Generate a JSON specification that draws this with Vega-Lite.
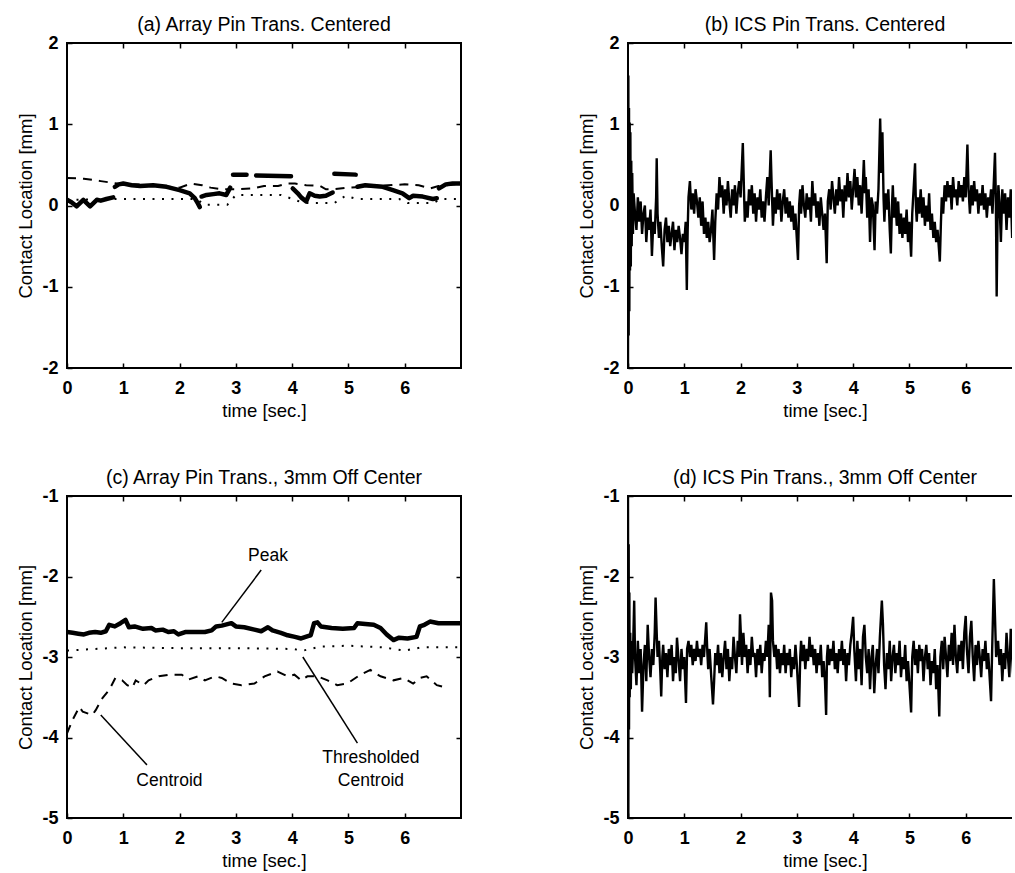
{
  "$schema": "https://vega.github.io/schema/vega-lite/v6.json",
  "autosize": {"type": "pad"},
  "padding": {"left": 15, "top": 13, "right": -12, "bottom": 0},
  "background": "white",
  "config": {
    "view": {"stroke": "black", "strokeWidth": 2},
    "axis": {"labelFont": "Liberation Sans", "labelFontSize": 18, "labelFontWeight": "bold", "labelColor": "black", "titleFont": "Liberation Sans", "titleFontSize": 18.5, "titleFontWeight": "normal", "titleColor": "black", "tickColor": "black", "tickWidth": 1.5, "grid": false, "domain": false, "labelFlush": false, "labelOverlap": false},
    "title": {"font": "Liberation Sans", "fontSize": 19.5, "fontWeight": "normal", "color": "black", "offset": -1},
    "text": {"font": "Liberation Sans", "fontSize": 17.5, "color": "black"}
  },
  "datasets": {
    "a_peak": [
      {"seg": 1, "t": 0, "v": 0.07}, {"seg": 1, "t": 0.08, "v": 0.04}, {"seg": 1, "t": 0.17, "v": -0.01}, {"seg": 1, "t": 0.23, "v": 0.03}, {"seg": 1, "t": 0.29, "v": 0.07}, {"seg": 1, "t": 0.35, "v": 0.03}, {"seg": 1, "t": 0.41, "v": -0.01}, {"seg": 1, "t": 0.47, "v": 0.03}, {"seg": 1, "t": 0.53, "v": 0.07}, {"seg": 1, "t": 0.6, "v": 0.06}, {"seg": 1, "t": 0.7, "v": 0.08}, {"seg": 1, "t": 0.82, "v": 0.1},
      {"seg": 2, "t": 0.85, "v": 0.23}, {"seg": 2, "t": 0.92, "v": 0.26}, {"seg": 2, "t": 1.0, "v": 0.27}, {"seg": 2, "t": 1.15, "v": 0.25}, {"seg": 2, "t": 1.3, "v": 0.24}, {"seg": 2, "t": 1.53, "v": 0.25}, {"seg": 2, "t": 1.77, "v": 0.23}, {"seg": 2, "t": 2.0, "v": 0.19}, {"seg": 2, "t": 2.18, "v": 0.15}, {"seg": 2, "t": 2.27, "v": 0.09}, {"seg": 2, "t": 2.33, "v": 0.02}, {"seg": 2, "t": 2.36, "v": -0.02},
      {"seg": 3, "t": 2.39, "v": 0.11}, {"seg": 3, "t": 2.48, "v": 0.13}, {"seg": 3, "t": 2.6, "v": 0.14}, {"seg": 3, "t": 2.71, "v": 0.15}, {"seg": 3, "t": 2.83, "v": 0.13}, {"seg": 3, "t": 2.9, "v": 0.22},
      {"seg": 4, "t": 2.95, "v": 0.38}, {"seg": 4, "t": 3.19, "v": 0.38},
      {"seg": 5, "t": 3.36, "v": 0.37}, {"seg": 5, "t": 3.98, "v": 0.36},
      {"seg": 6, "t": 4.01, "v": 0.21}, {"seg": 6, "t": 4.1, "v": 0.15}, {"seg": 6, "t": 4.16, "v": 0.1}, {"seg": 6, "t": 4.25, "v": 0.05}, {"seg": 6, "t": 4.28, "v": 0.1}, {"seg": 6, "t": 4.31, "v": 0.15}, {"seg": 6, "t": 4.4, "v": 0.12}, {"seg": 6, "t": 4.49, "v": 0.11}, {"seg": 6, "t": 4.6, "v": 0.12}, {"seg": 6, "t": 4.72, "v": 0.16},
      {"seg": 7, "t": 4.75, "v": 0.39}, {"seg": 7, "t": 5.13, "v": 0.38},
      {"seg": 8, "t": 5.16, "v": 0.23}, {"seg": 8, "t": 5.3, "v": 0.25}, {"seg": 8, "t": 5.45, "v": 0.24}, {"seg": 8, "t": 5.61, "v": 0.23}, {"seg": 8, "t": 5.79, "v": 0.19}, {"seg": 8, "t": 5.96, "v": 0.15}, {"seg": 8, "t": 6.08, "v": 0.09}, {"seg": 8, "t": 6.15, "v": 0.12}, {"seg": 8, "t": 6.32, "v": 0.11}, {"seg": 8, "t": 6.5, "v": 0.08}, {"seg": 8, "t": 6.57, "v": 0.09},
      {"seg": 9, "t": 6.61, "v": 0.21}, {"seg": 9, "t": 6.73, "v": 0.26}, {"seg": 9, "t": 6.85, "v": 0.27}, {"seg": 9, "t": 7.0, "v": 0.27}
    ],
    "a_cent": [
      {"t": 0, "v": 0.34}, {"t": 0.3, "v": 0.33}, {"t": 0.6, "v": 0.3}, {"t": 0.9, "v": 0.27}, {"t": 1.5, "v": 0.25}, {"t": 2.0, "v": 0.22}, {"t": 2.2, "v": 0.27}, {"t": 2.4, "v": 0.25}, {"t": 2.55, "v": 0.22}, {"t": 2.75, "v": 0.2}, {"t": 3.0, "v": 0.2}, {"t": 3.3, "v": 0.21}, {"t": 3.5, "v": 0.24}, {"t": 3.75, "v": 0.24}, {"t": 3.9, "v": 0.27}, {"t": 4.05, "v": 0.27}, {"t": 4.25, "v": 0.25}, {"t": 4.5, "v": 0.24}, {"t": 4.6, "v": 0.2}, {"t": 4.75, "v": 0.2}, {"t": 5.0, "v": 0.22}, {"t": 5.5, "v": 0.24}, {"t": 6.0, "v": 0.26}, {"t": 6.25, "v": 0.25}, {"t": 6.45, "v": 0.21}, {"t": 6.6, "v": 0.24}, {"t": 7.0, "v": 0.27}
    ],
    "a_thr": [
      {"t": 0, "v": 0.07}, {"t": 0.9, "v": 0.08}, {"t": 2.3, "v": 0.08}, {"t": 2.45, "v": 0.01}, {"t": 2.85, "v": 0.01}, {"t": 3.0, "v": 0.13}, {"t": 3.8, "v": 0.13}, {"t": 4.05, "v": 0.07}, {"t": 4.2, "v": 0.03}, {"t": 4.75, "v": 0.03}, {"t": 4.95, "v": 0.12}, {"t": 5.15, "v": 0.08}, {"t": 5.9, "v": 0.08}, {"t": 6.05, "v": 0.03}, {"t": 6.5, "v": 0.03}, {"t": 6.65, "v": 0.08}, {"t": 7.0, "v": 0.08}
    ],
    "b": [
      {"t": 0, "v": -2.0}, {"t": 0.006, "v": 1.6}, {"t": 0.012, "v": -1.6}, {"t": 0.018, "v": 1.2}, {"t": 0.024, "v": -1.3}, {"t": 0.03, "v": 1.02}, {"t": 0.036, "v": -0.8}, {"t": 0.042, "v": 0.9}, {"t": 0.05, "v": -0.75}, {"t": 0.058, "v": 0.55}, {"t": 0.066, "v": -0.5}, {"t": 0.075, "v": 0.4}, {"t": 0.088, "v": -0.35}, {"t": 0.1, "v": 0.15},
      {"t": 0.125, "v": -0.1}, {"t": 0.15, "v": -0.3}, {"t": 0.175, "v": 0.1}, {"t": 0.2, "v": -0.2}, {"t": 0.225, "v": 0.05}, {"t": 0.25, "v": -0.35}, {"t": 0.275, "v": -0.1}, {"t": 0.3, "v": 0.0}, {"t": 0.325, "v": -0.45}, {"t": 0.35, "v": -0.15}, {"t": 0.375, "v": -0.3}, {"t": 0.4, "v": -0.05}, {"t": 0.425, "v": -0.62}, {"t": 0.45, "v": -0.2}, {"t": 0.475, "v": -0.35}, {"t": 0.5, "v": 0.1}, {"t": 0.51, "v": 0.58}, {"t": 0.525, "v": -0.1}, {"t": 0.55, "v": -0.4}, {"t": 0.575, "v": -0.2}, {"t": 0.6, "v": -0.5}, {"t": 0.625, "v": -0.75}, {"t": 0.65, "v": -0.3}, {"t": 0.675, "v": -0.15}, {"t": 0.7, "v": -0.45}, {"t": 0.725, "v": -0.25}, {"t": 0.75, "v": -0.5}, {"t": 0.775, "v": -0.35}, {"t": 0.8, "v": -0.2}, {"t": 0.825, "v": -0.55}, {"t": 0.85, "v": -0.3}, {"t": 0.875, "v": -0.45}, {"t": 0.9, "v": -0.25}, {"t": 0.925, "v": -0.4}, {"t": 0.95, "v": -0.6}, {"t": 0.975, "v": -0.35}, {"t": 1.0, "v": -0.45}, {"t": 1.025, "v": -0.2}, {"t": 1.045, "v": -1.04}, {"t": 1.06, "v": -0.3}, {"t": 1.075, "v": 0.1}, {"t": 1.1, "v": 0.3}, {"t": 1.125, "v": -0.05}, {"t": 1.15, "v": 0.15}, {"t": 1.175, "v": -0.1}, {"t": 1.2, "v": 0.2}, {"t": 1.225, "v": 0.05}, {"t": 1.25, "v": -0.15}, {"t": 1.275, "v": 0.1}, {"t": 1.3, "v": -0.25}, {"t": 1.325, "v": 0.05}, {"t": 1.35, "v": -0.35}, {"t": 1.375, "v": -0.15}, {"t": 1.4, "v": -0.4}, {"t": 1.425, "v": -0.2}, {"t": 1.45, "v": -0.45}, {"t": 1.475, "v": -0.3}, {"t": 1.5, "v": -0.05}, {"t": 1.53, "v": -0.67}, {"t": 1.55, "v": -0.2}, {"t": 1.575, "v": 0.15}, {"t": 1.6, "v": -0.05}, {"t": 1.625, "v": 0.35}, {"t": 1.65, "v": 0.1}, {"t": 1.675, "v": 0.25}, {"t": 1.7, "v": -0.1}, {"t": 1.725, "v": 0.2}, {"t": 1.75, "v": 0.0}, {"t": 1.775, "v": 0.3}, {"t": 1.8, "v": 0.05}, {"t": 1.825, "v": -0.15}, {"t": 1.85, "v": 0.2}, {"t": 1.875, "v": 0.0}, {"t": 1.9, "v": 0.25}, {"t": 1.925, "v": -0.1}, {"t": 1.95, "v": 0.15}, {"t": 1.975, "v": 0.3}, {"t": 2.0, "v": 0.1}, {"t": 2.04, "v": 0.77}, {"t": 2.06, "v": 0.2}, {"t": 2.075, "v": -0.2}, {"t": 2.1, "v": 0.05}, {"t": 2.125, "v": -0.15}, {"t": 2.15, "v": 0.2}, {"t": 2.175, "v": 0.0}, {"t": 2.2, "v": 0.25}, {"t": 2.225, "v": -0.1}, {"t": 2.25, "v": 0.15}, {"t": 2.275, "v": -0.2}, {"t": 2.3, "v": 0.1}, {"t": 2.325, "v": -0.05}, {"t": 2.35, "v": 0.2}, {"t": 2.375, "v": -0.15}, {"t": 2.4, "v": 0.05}, {"t": 2.425, "v": -0.2}, {"t": 2.45, "v": 0.1}, {"t": 2.475, "v": 0.35}, {"t": 2.5, "v": 0.0}, {"t": 2.535, "v": 0.68}, {"t": 2.55, "v": 0.3}, {"t": 2.575, "v": -0.25}, {"t": 2.6, "v": 0.1}, {"t": 2.625, "v": -0.1}, {"t": 2.65, "v": 0.2}, {"t": 2.675, "v": -0.05}, {"t": 2.7, "v": 0.15}, {"t": 2.725, "v": -0.2}, {"t": 2.75, "v": 0.05}, {"t": 2.775, "v": 0.2}, {"t": 2.8, "v": -0.1}, {"t": 2.825, "v": 0.1}, {"t": 2.85, "v": -0.15}, {"t": 2.875, "v": 0.05}, {"t": 2.9, "v": -0.2}, {"t": 2.925, "v": 0.0}, {"t": 2.95, "v": -0.3}, {"t": 2.975, "v": -0.1}, {"t": 3.02, "v": -0.67}, {"t": 3.04, "v": 0.0}, {"t": 3.06, "v": 0.2}, {"t": 3.075, "v": -0.1}, {"t": 3.1, "v": 0.25}, {"t": 3.125, "v": 0.0}, {"t": 3.15, "v": -0.15}, {"t": 3.175, "v": 0.15}, {"t": 3.2, "v": -0.05}, {"t": 3.225, "v": 0.1}, {"t": 3.25, "v": -0.2}, {"t": 3.275, "v": 0.3}, {"t": 3.3, "v": 0.0}, {"t": 3.325, "v": 0.15}, {"t": 3.35, "v": -0.15}, {"t": 3.375, "v": 0.05}, {"t": 3.4, "v": -0.25}, {"t": 3.425, "v": 0.1}, {"t": 3.45, "v": -0.1}, {"t": 3.475, "v": -0.3}, {"t": 3.5, "v": -0.1}, {"t": 3.53, "v": -0.71}, {"t": 3.55, "v": 0.05}, {"t": 3.575, "v": 0.2}, {"t": 3.6, "v": -0.05}, {"t": 3.625, "v": 0.3}, {"t": 3.65, "v": 0.1}, {"t": 3.675, "v": -0.1}, {"t": 3.7, "v": 0.2}, {"t": 3.725, "v": 0.0}, {"t": 3.75, "v": 0.35}, {"t": 3.775, "v": 0.05}, {"t": 3.8, "v": 0.2}, {"t": 3.825, "v": -0.15}, {"t": 3.85, "v": 0.25}, {"t": 3.875, "v": 0.05}, {"t": 3.9, "v": 0.4}, {"t": 3.925, "v": 0.1}, {"t": 3.95, "v": 0.3}, {"t": 3.975, "v": -0.05}, {"t": 4.0, "v": 0.2}, {"t": 4.025, "v": 0.45}, {"t": 4.05, "v": 0.1}, {"t": 4.075, "v": 0.35}, {"t": 4.1, "v": 0.0}, {"t": 4.125, "v": 0.25}, {"t": 4.15, "v": -0.1}, {"t": 4.175, "v": 0.3}, {"t": 4.19, "v": 0.56}, {"t": 4.21, "v": 0.15}, {"t": 4.225, "v": 0.35}, {"t": 4.25, "v": -0.15}, {"t": 4.275, "v": 0.2}, {"t": 4.3, "v": -0.45}, {"t": 4.325, "v": 0.1}, {"t": 4.35, "v": 0.0}, {"t": 4.38, "v": -0.55}, {"t": 4.4, "v": 0.05}, {"t": 4.425, "v": -0.1}, {"t": 4.45, "v": 0.2}, {"t": 4.48, "v": 1.07}, {"t": 4.5, "v": 0.4}, {"t": 4.52, "v": 0.9}, {"t": 4.54, "v": 0.1}, {"t": 4.555, "v": -0.2}, {"t": 4.575, "v": 0.15}, {"t": 4.6, "v": -0.05}, {"t": 4.625, "v": 0.2}, {"t": 4.65, "v": -0.3}, {"t": 4.67, "v": -0.59}, {"t": 4.69, "v": 0.0}, {"t": 4.705, "v": 0.25}, {"t": 4.725, "v": -0.15}, {"t": 4.75, "v": 0.1}, {"t": 4.775, "v": -0.25}, {"t": 4.8, "v": 0.05}, {"t": 4.825, "v": -0.35}, {"t": 4.85, "v": -0.1}, {"t": 4.875, "v": -0.4}, {"t": 4.9, "v": -0.15}, {"t": 4.925, "v": -0.35}, {"t": 4.95, "v": -0.05}, {"t": 4.975, "v": -0.45}, {"t": 5.0, "v": -0.2}, {"t": 5.03, "v": -0.63}, {"t": 5.05, "v": -0.1}, {"t": 5.1, "v": 0.52}, {"t": 5.115, "v": 0.0}, {"t": 5.13, "v": -0.2}, {"t": 5.15, "v": 0.1}, {"t": 5.175, "v": -0.1}, {"t": 5.2, "v": 0.2}, {"t": 5.225, "v": -0.15}, {"t": 5.25, "v": 0.1}, {"t": 5.275, "v": -0.25}, {"t": 5.3, "v": 0.0}, {"t": 5.325, "v": -0.2}, {"t": 5.35, "v": 0.15}, {"t": 5.375, "v": -0.3}, {"t": 5.4, "v": -0.1}, {"t": 5.425, "v": -0.4}, {"t": 5.45, "v": -0.2}, {"t": 5.475, "v": -0.45}, {"t": 5.5, "v": -0.3}, {"t": 5.54, "v": -0.69}, {"t": 5.56, "v": -0.2}, {"t": 5.575, "v": 0.1}, {"t": 5.6, "v": -0.1}, {"t": 5.625, "v": 0.25}, {"t": 5.65, "v": 0.05}, {"t": 5.675, "v": 0.3}, {"t": 5.7, "v": 0.1}, {"t": 5.725, "v": 0.25}, {"t": 5.75, "v": -0.05}, {"t": 5.775, "v": 0.35}, {"t": 5.8, "v": 0.1}, {"t": 5.825, "v": 0.2}, {"t": 5.85, "v": 0.0}, {"t": 5.875, "v": 0.3}, {"t": 5.9, "v": 0.1}, {"t": 5.925, "v": 0.25}, {"t": 5.95, "v": 0.05}, {"t": 5.975, "v": 0.35}, {"t": 6.0, "v": 0.1}, {"t": 6.03, "v": 0.75}, {"t": 6.05, "v": 0.2}, {"t": 6.075, "v": -0.1}, {"t": 6.1, "v": 0.25}, {"t": 6.125, "v": 0.0}, {"t": 6.15, "v": 0.3}, {"t": 6.175, "v": 0.05}, {"t": 6.2, "v": 0.2}, {"t": 6.225, "v": -0.1}, {"t": 6.25, "v": 0.15}, {"t": 6.275, "v": 0.0}, {"t": 6.3, "v": 0.25}, {"t": 6.325, "v": -0.05}, {"t": 6.35, "v": 0.15}, {"t": 6.375, "v": -0.15}, {"t": 6.4, "v": 0.1}, {"t": 6.425, "v": 0.0}, {"t": 6.45, "v": 0.2}, {"t": 6.475, "v": -0.1}, {"t": 6.5, "v": 0.3}, {"t": 6.52, "v": 0.65}, {"t": 6.535, "v": 0.1}, {"t": 6.55, "v": -1.12}, {"t": 6.565, "v": -0.2}, {"t": 6.58, "v": 0.25}, {"t": 6.6, "v": 0.05}, {"t": 6.625, "v": -0.45}, {"t": 6.65, "v": 0.2}, {"t": 6.675, "v": -0.1}, {"t": 6.7, "v": 0.15}, {"t": 6.725, "v": -0.3}, {"t": 6.75, "v": 0.1}, {"t": 6.775, "v": -0.15}, {"t": 6.8, "v": 0.2}, {"t": 6.825, "v": -0.4}, {"t": 6.85, "v": 0.0}, {"t": 6.875, "v": 0.15}, {"t": 6.9, "v": -0.2}, {"t": 6.925, "v": 0.1}, {"t": 6.95, "v": -0.3}, {"t": 6.975, "v": 0.05}, {"t": 7.0, "v": -0.1}
    ],
    "c_peak": [
      {"t": 0, "v": -2.69}, {"t": 0.1, "v": -2.7}, {"t": 0.2, "v": -2.71}, {"t": 0.3, "v": -2.72}, {"t": 0.39, "v": -2.7}, {"t": 0.5, "v": -2.69}, {"t": 0.6, "v": -2.7}, {"t": 0.69, "v": -2.68}, {"t": 0.75, "v": -2.6}, {"t": 0.85, "v": -2.62}, {"t": 0.95, "v": -2.58}, {"t": 1.04, "v": -2.54}, {"t": 1.1, "v": -2.63}, {"t": 1.2, "v": -2.62}, {"t": 1.35, "v": -2.65}, {"t": 1.5, "v": -2.64}, {"t": 1.57, "v": -2.67}, {"t": 1.7, "v": -2.66}, {"t": 1.8, "v": -2.69}, {"t": 1.9, "v": -2.68}, {"t": 1.98, "v": -2.72}, {"t": 2.1, "v": -2.69}, {"t": 2.3, "v": -2.69}, {"t": 2.45, "v": -2.69}, {"t": 2.57, "v": -2.67}, {"t": 2.65, "v": -2.62}, {"t": 2.75, "v": -2.61}, {"t": 2.92, "v": -2.58}, {"t": 3.0, "v": -2.62}, {"t": 3.15, "v": -2.63}, {"t": 3.33, "v": -2.66}, {"t": 3.45, "v": -2.68}, {"t": 3.57, "v": -2.63}, {"t": 3.65, "v": -2.67}, {"t": 3.8, "v": -2.7}, {"t": 3.92, "v": -2.73}, {"t": 4.05, "v": -2.75}, {"t": 4.16, "v": -2.77}, {"t": 4.28, "v": -2.74}, {"t": 4.33, "v": -2.73}, {"t": 4.39, "v": -2.58}, {"t": 4.45, "v": -2.57}, {"t": 4.51, "v": -2.62}, {"t": 4.7, "v": -2.64}, {"t": 4.9, "v": -2.65}, {"t": 5.1, "v": -2.64}, {"t": 5.16, "v": -2.58}, {"t": 5.3, "v": -2.59}, {"t": 5.45, "v": -2.6}, {"t": 5.57, "v": -2.64}, {"t": 5.68, "v": -2.72}, {"t": 5.8, "v": -2.79}, {"t": 5.9, "v": -2.76}, {"t": 6.05, "v": -2.77}, {"t": 6.21, "v": -2.75}, {"t": 6.27, "v": -2.62}, {"t": 6.35, "v": -2.6}, {"t": 6.45, "v": -2.56}, {"t": 6.6, "v": -2.58}, {"t": 6.8, "v": -2.58}, {"t": 7.0, "v": -2.58}
    ],
    "c_cent": [
      {"t": 0.0, "v": -3.95}, {"t": 0.1, "v": -3.78}, {"t": 0.22, "v": -3.62}, {"t": 0.28, "v": -3.68}, {"t": 0.45, "v": -3.72}, {"t": 0.51, "v": -3.66}, {"t": 0.63, "v": -3.51}, {"t": 0.75, "v": -3.41}, {"t": 0.86, "v": -3.26}, {"t": 0.98, "v": -3.29}, {"t": 1.07, "v": -3.35}, {"t": 1.16, "v": -3.38}, {"t": 1.22, "v": -3.29}, {"t": 1.36, "v": -3.35}, {"t": 1.45, "v": -3.29}, {"t": 1.63, "v": -3.24}, {"t": 1.81, "v": -3.22}, {"t": 2.04, "v": -3.22}, {"t": 2.16, "v": -3.28}, {"t": 2.33, "v": -3.24}, {"t": 2.45, "v": -3.29}, {"t": 2.63, "v": -3.24}, {"t": 2.75, "v": -3.26}, {"t": 2.92, "v": -3.33}, {"t": 3.1, "v": -3.35}, {"t": 3.33, "v": -3.33}, {"t": 3.51, "v": -3.24}, {"t": 3.74, "v": -3.18}, {"t": 3.92, "v": -3.24}, {"t": 4.04, "v": -3.22}, {"t": 4.16, "v": -3.29}, {"t": 4.27, "v": -3.24}, {"t": 4.45, "v": -3.24}, {"t": 4.63, "v": -3.29}, {"t": 4.8, "v": -3.35}, {"t": 4.98, "v": -3.33}, {"t": 5.21, "v": -3.22}, {"t": 5.39, "v": -3.16}, {"t": 5.57, "v": -3.24}, {"t": 5.8, "v": -3.29}, {"t": 5.98, "v": -3.26}, {"t": 6.15, "v": -3.33}, {"t": 6.27, "v": -3.26}, {"t": 6.39, "v": -3.24}, {"t": 6.57, "v": -3.35}, {"t": 6.69, "v": -3.37}
    ],
    "c_thr": [
      {"t": 0, "v": -2.92}, {"t": 0.5, "v": -2.9}, {"t": 1.0, "v": -2.88}, {"t": 2.0, "v": -2.89}, {"t": 3.0, "v": -2.89}, {"t": 4.0, "v": -2.9}, {"t": 4.2, "v": -2.92}, {"t": 4.5, "v": -2.87}, {"t": 5.0, "v": -2.86}, {"t": 5.6, "v": -2.88}, {"t": 6.0, "v": -2.92}, {"t": 6.3, "v": -2.88}, {"t": 7.0, "v": -2.88}
    ],
    "c_ann": [
      {"t": 3.57, "v": -1.75, "label": "Peak"}, {"t": 1.82, "v": -4.54, "label": "Centroid"}, {"t": 5.4, "v": -4.25, "label": "Thresholded"}, {"t": 5.4, "v": -4.54, "label": "Centroid"}
    ],
    "c_lines": [
      {"t": 3.45, "v": -1.92, "t2": 2.75, "v2": -2.57}, {"t": 1.42, "v": -4.34, "t2": 0.6, "v2": -3.72}, {"t": 5.16, "v": -4.07, "t2": 4.19, "v2": -3.0}
    ],
    "d": [
      {"t": 0, "v": -1.0}, {"t": 0.006, "v": -5.0}, {"t": 0.012, "v": -1.6}, {"t": 0.018, "v": -3.9}, {"t": 0.024, "v": -2.2}, {"t": 0.03, "v": -3.5}, {"t": 0.04, "v": -2.7}, {"t": 0.05, "v": -3.4}, {"t": 0.06, "v": -2.8}, {"t": 0.075, "v": -3.2}, {"t": 0.09, "v": -2.9}, {"t": 0.11, "v": -2.3}, {"t": 0.125, "v": -3.0}, {"t": 0.15, "v": -3.35}, {"t": 0.175, "v": -2.8}, {"t": 0.2, "v": -3.2}, {"t": 0.225, "v": -2.9}, {"t": 0.25, "v": -3.68}, {"t": 0.275, "v": -3.1}, {"t": 0.3, "v": -2.85}, {"t": 0.325, "v": -3.3}, {"t": 0.35, "v": -2.6}, {"t": 0.375, "v": -3.0}, {"t": 0.4, "v": -3.25}, {"t": 0.425, "v": -2.9}, {"t": 0.45, "v": -3.1}, {"t": 0.475, "v": -2.7}, {"t": 0.49, "v": -2.26}, {"t": 0.51, "v": -2.7}, {"t": 0.525, "v": -3.0}, {"t": 0.55, "v": -2.8}, {"t": 0.575, "v": -3.2}, {"t": 0.59, "v": -3.49}, {"t": 0.61, "v": -3.0}, {"t": 0.625, "v": -2.85}, {"t": 0.65, "v": -3.15}, {"t": 0.675, "v": -2.95}, {"t": 0.7, "v": -3.25}, {"t": 0.725, "v": -2.9}, {"t": 0.75, "v": -3.1}, {"t": 0.775, "v": -2.85}, {"t": 0.8, "v": -3.3}, {"t": 0.825, "v": -3.0}, {"t": 0.85, "v": -3.2}, {"t": 0.87, "v": -2.76}, {"t": 0.9, "v": -3.05}, {"t": 0.925, "v": -3.3}, {"t": 0.95, "v": -2.9}, {"t": 0.975, "v": -3.15}, {"t": 1.0, "v": -3.0}, {"t": 1.03, "v": -3.57}, {"t": 1.05, "v": -2.9}, {"t": 1.075, "v": -2.8}, {"t": 1.1, "v": -3.0}, {"t": 1.125, "v": -2.85}, {"t": 1.15, "v": -3.1}, {"t": 1.175, "v": -2.9}, {"t": 1.2, "v": -3.05}, {"t": 1.225, "v": -2.8}, {"t": 1.25, "v": -3.0}, {"t": 1.275, "v": -2.9}, {"t": 1.3, "v": -3.1}, {"t": 1.325, "v": -2.85}, {"t": 1.35, "v": -3.0}, {"t": 1.39, "v": -2.57}, {"t": 1.41, "v": -2.95}, {"t": 1.425, "v": -3.15}, {"t": 1.45, "v": -2.9}, {"t": 1.475, "v": -3.2}, {"t": 1.51, "v": -3.59}, {"t": 1.53, "v": -3.3}, {"t": 1.55, "v": -2.95}, {"t": 1.575, "v": -3.1}, {"t": 1.6, "v": -2.85}, {"t": 1.625, "v": -3.2}, {"t": 1.65, "v": -2.95}, {"t": 1.675, "v": -3.25}, {"t": 1.7, "v": -3.0}, {"t": 1.725, "v": -2.8}, {"t": 1.75, "v": -3.15}, {"t": 1.775, "v": -2.9}, {"t": 1.8, "v": -3.3}, {"t": 1.825, "v": -3.0}, {"t": 1.85, "v": -3.15}, {"t": 1.875, "v": -2.75}, {"t": 1.9, "v": -3.0}, {"t": 1.925, "v": -3.2}, {"t": 1.95, "v": -2.8}, {"t": 1.975, "v": -3.0}, {"t": 1.99, "v": -2.47}, {"t": 2.01, "v": -2.8}, {"t": 2.025, "v": -3.1}, {"t": 2.05, "v": -2.7}, {"t": 2.075, "v": -3.0}, {"t": 2.1, "v": -2.85}, {"t": 2.125, "v": -3.2}, {"t": 2.15, "v": -2.9}, {"t": 2.175, "v": -3.1}, {"t": 2.2, "v": -2.75}, {"t": 2.225, "v": -3.0}, {"t": 2.25, "v": -2.95}, {"t": 2.275, "v": -3.25}, {"t": 2.3, "v": -2.9}, {"t": 2.325, "v": -3.1}, {"t": 2.35, "v": -2.85}, {"t": 2.375, "v": -3.2}, {"t": 2.4, "v": -2.95}, {"t": 2.425, "v": -3.05}, {"t": 2.45, "v": -2.8}, {"t": 2.475, "v": -3.0}, {"t": 2.5, "v": -2.6}, {"t": 2.52, "v": -3.5}, {"t": 2.54, "v": -2.2}, {"t": 2.56, "v": -2.3}, {"t": 2.575, "v": -2.8}, {"t": 2.6, "v": -3.0}, {"t": 2.625, "v": -2.85}, {"t": 2.65, "v": -3.15}, {"t": 2.675, "v": -2.9}, {"t": 2.7, "v": -3.2}, {"t": 2.725, "v": -2.95}, {"t": 2.75, "v": -3.1}, {"t": 2.775, "v": -2.85}, {"t": 2.8, "v": -3.2}, {"t": 2.825, "v": -2.95}, {"t": 2.85, "v": -3.1}, {"t": 2.875, "v": -2.9}, {"t": 2.9, "v": -3.25}, {"t": 2.925, "v": -3.0}, {"t": 2.95, "v": -3.15}, {"t": 2.975, "v": -2.85}, {"t": 3.0, "v": -3.1}, {"t": 3.04, "v": -3.62}, {"t": 3.06, "v": -3.0}, {"t": 3.075, "v": -2.8}, {"t": 3.1, "v": -3.05}, {"t": 3.125, "v": -2.85}, {"t": 3.15, "v": -3.15}, {"t": 3.175, "v": -2.9}, {"t": 3.2, "v": -3.05}, {"t": 3.225, "v": -2.75}, {"t": 3.25, "v": -3.0}, {"t": 3.275, "v": -2.85}, {"t": 3.3, "v": -3.1}, {"t": 3.325, "v": -2.9}, {"t": 3.35, "v": -3.2}, {"t": 3.375, "v": -2.95}, {"t": 3.4, "v": -3.1}, {"t": 3.425, "v": -2.85}, {"t": 3.45, "v": -3.25}, {"t": 3.475, "v": -3.05}, {"t": 3.5, "v": -3.3}, {"t": 3.52, "v": -3.72}, {"t": 3.535, "v": -3.0}, {"t": 3.55, "v": -2.85}, {"t": 3.575, "v": -3.1}, {"t": 3.6, "v": -2.9}, {"t": 3.625, "v": -3.05}, {"t": 3.65, "v": -2.8}, {"t": 3.675, "v": -3.15}, {"t": 3.7, "v": -2.95}, {"t": 3.725, "v": -3.2}, {"t": 3.75, "v": -2.9}, {"t": 3.775, "v": -3.05}, {"t": 3.8, "v": -2.8}, {"t": 3.825, "v": -3.1}, {"t": 3.85, "v": -2.9}, {"t": 3.875, "v": -3.3}, {"t": 3.9, "v": -2.95}, {"t": 3.925, "v": -3.1}, {"t": 3.95, "v": -2.85}, {"t": 3.975, "v": -2.7}, {"t": 4.0, "v": -2.5}, {"t": 4.02, "v": -2.9}, {"t": 4.05, "v": -3.3}, {"t": 4.075, "v": -2.8}, {"t": 4.1, "v": -3.15}, {"t": 4.125, "v": -2.9}, {"t": 4.15, "v": -3.35}, {"t": 4.175, "v": -2.75}, {"t": 4.2, "v": -2.6}, {"t": 4.225, "v": -3.0}, {"t": 4.25, "v": -3.2}, {"t": 4.275, "v": -2.9}, {"t": 4.3, "v": -3.4}, {"t": 4.325, "v": -3.0}, {"t": 4.35, "v": -2.85}, {"t": 4.375, "v": -3.45}, {"t": 4.4, "v": -3.1}, {"t": 4.425, "v": -2.9}, {"t": 4.45, "v": -3.2}, {"t": 4.475, "v": -2.75}, {"t": 4.51, "v": -2.3}, {"t": 4.53, "v": -2.6}, {"t": 4.55, "v": -3.1}, {"t": 4.575, "v": -3.4}, {"t": 4.6, "v": -2.95}, {"t": 4.625, "v": -3.15}, {"t": 4.65, "v": -2.8}, {"t": 4.675, "v": -3.3}, {"t": 4.7, "v": -3.0}, {"t": 4.725, "v": -2.85}, {"t": 4.75, "v": -3.2}, {"t": 4.775, "v": -2.95}, {"t": 4.8, "v": -3.1}, {"t": 4.825, "v": -2.8}, {"t": 4.85, "v": -3.25}, {"t": 4.875, "v": -3.0}, {"t": 4.9, "v": -3.15}, {"t": 4.925, "v": -2.85}, {"t": 4.95, "v": -3.3}, {"t": 4.975, "v": -3.05}, {"t": 5.03, "v": -3.69}, {"t": 5.05, "v": -3.0}, {"t": 5.075, "v": -2.8}, {"t": 5.1, "v": -3.1}, {"t": 5.125, "v": -2.9}, {"t": 5.15, "v": -3.2}, {"t": 5.175, "v": -2.85}, {"t": 5.2, "v": -3.05}, {"t": 5.225, "v": -2.9}, {"t": 5.25, "v": -3.3}, {"t": 5.275, "v": -3.0}, {"t": 5.3, "v": -2.85}, {"t": 5.325, "v": -3.15}, {"t": 5.35, "v": -2.95}, {"t": 5.375, "v": -3.35}, {"t": 5.4, "v": -3.05}, {"t": 5.425, "v": -3.2}, {"t": 5.45, "v": -2.9}, {"t": 5.475, "v": -3.4}, {"t": 5.5, "v": -3.1}, {"t": 5.53, "v": -3.74}, {"t": 5.55, "v": -3.0}, {"t": 5.575, "v": -2.8}, {"t": 5.6, "v": -3.15}, {"t": 5.625, "v": -2.75}, {"t": 5.65, "v": -3.0}, {"t": 5.675, "v": -3.25}, {"t": 5.7, "v": -2.85}, {"t": 5.725, "v": -3.05}, {"t": 5.75, "v": -2.7}, {"t": 5.775, "v": -3.1}, {"t": 5.8, "v": -2.6}, {"t": 5.825, "v": -3.0}, {"t": 5.85, "v": -3.2}, {"t": 5.875, "v": -2.85}, {"t": 5.9, "v": -3.05}, {"t": 5.925, "v": -2.8}, {"t": 5.95, "v": -3.15}, {"t": 5.975, "v": -2.7}, {"t": 6.0, "v": -2.49}, {"t": 6.02, "v": -2.9}, {"t": 6.05, "v": -3.2}, {"t": 6.075, "v": -2.75}, {"t": 6.1, "v": -2.55}, {"t": 6.125, "v": -3.0}, {"t": 6.15, "v": -3.3}, {"t": 6.175, "v": -2.85}, {"t": 6.2, "v": -3.1}, {"t": 6.225, "v": -2.8}, {"t": 6.25, "v": -3.0}, {"t": 6.275, "v": -3.25}, {"t": 6.3, "v": -2.9}, {"t": 6.325, "v": -3.05}, {"t": 6.35, "v": -2.8}, {"t": 6.375, "v": -3.15}, {"t": 6.4, "v": -2.95}, {"t": 6.425, "v": -3.25}, {"t": 6.45, "v": -3.55}, {"t": 6.47, "v": -2.9}, {"t": 6.5, "v": -2.03}, {"t": 6.52, "v": -2.5}, {"t": 6.54, "v": -3.0}, {"t": 6.575, "v": -2.8}, {"t": 6.6, "v": -3.1}, {"t": 6.625, "v": -2.9}, {"t": 6.65, "v": -3.3}, {"t": 6.675, "v": -2.95}, {"t": 6.7, "v": -3.15}, {"t": 6.725, "v": -2.7}, {"t": 6.75, "v": -3.0}, {"t": 6.775, "v": -3.25}, {"t": 6.8, "v": -2.65}, {"t": 6.825, "v": -3.0}, {"t": 6.85, "v": -3.3}, {"t": 6.875, "v": -2.9}, {"t": 6.9, "v": -3.1}, {"t": 6.925, "v": -2.85}, {"t": 6.95, "v": -3.2}, {"t": 6.975, "v": -3.0}, {"t": 7.0, "v": -3.1}
    ]
  },
  "columns": 2,
  "spacing": {"row": 128, "column": 167},
  "bounds": "flush",
  "concat": [
    {
      "width": 394, "height": 325,
      "title": "(a) Array Pin Trans. Centered",
      "layer": [
        {"data": {"name": "a_thr"}, "mark": {"type": "line", "color": "black", "strokeWidth": 2, "strokeDash": [2, 7.5], "clip": true},
         "encoding": {
           "x": {"field": "t", "type": "quantitative", "scale": {"domain": [0, 7], "nice": false}, "axis": {"orient": "bottom", "values": [0, 1, 2, 3, 4, 5, 6], "title": "time [sec.]", "tickSize": -5, "labelPadding": 16, "titlePadding": 4, "labelExpr": "'' + datum.value"}},
           "y": {"field": "v", "type": "quantitative", "scale": {"domain": [-2, 2], "nice": false, "zero": false}, "axis": {"orient": "left", "values": [-2, -1, 0, 1, 2], "title": "Contact Location [mm]", "tickSize": -5, "labelPadding": 14, "titlePadding": 6, "labelExpr": "'' + datum.value"}}}},
        {"data": {"name": "a_cent"}, "mark": {"type": "line", "color": "black", "strokeWidth": 2, "strokeDash": [9, 7], "clip": true},
         "encoding": {"x": {"field": "t", "type": "quantitative", "scale": {"domain": [0, 7], "nice": false}, "axis": null}, "y": {"field": "v", "type": "quantitative", "scale": {"domain": [-2, 2], "nice": false, "zero": false}, "axis": null}}},
        {"data": {"name": "a_peak"}, "mark": {"type": "line", "color": "black", "strokeWidth": 4.5, "strokeCap": "round", "strokeJoin": "round", "clip": true},
         "encoding": {"x": {"field": "t", "type": "quantitative", "scale": {"domain": [0, 7], "nice": false}, "axis": null}, "y": {"field": "v", "type": "quantitative", "scale": {"domain": [-2, 2], "nice": false, "zero": false}, "axis": null}, "detail": {"field": "seg", "type": "nominal"}}},
        {"data": {"name": "a_thr"}, "mark": {"type": "line", "opacity": 0},
         "encoding": {"x": {"field": "t", "type": "quantitative", "scale": {"domain": [0, 7], "nice": false}, "axis": {"orient": "top", "values": [1, 2, 3, 4, 5, 6], "labels": false, "title": null, "tickSize": -5}}, "y": {"field": "v", "type": "quantitative", "scale": {"domain": [-2, 2], "nice": false, "zero": false}, "axis": {"orient": "right", "values": [-1, 0, 1], "labels": false, "title": null, "tickSize": -5}}}}
      ],
      "resolve": {"axis": {"x": "independent", "y": "independent"}}
    },
    {
      "width": 394, "height": 325,
      "title": "(b) ICS Pin Trans. Centered",
      "layer": [
        {"data": {"name": "b"}, "mark": {"type": "line", "color": "black", "strokeWidth": 2.4, "clip": true},
         "encoding": {
           "x": {"field": "t", "type": "quantitative", "scale": {"domain": [0, 7], "nice": false}, "axis": {"orient": "bottom", "values": [0, 1, 2, 3, 4, 5, 6], "title": "time [sec.]", "tickSize": -5, "labelPadding": 16, "titlePadding": 4, "labelExpr": "'' + datum.value"}},
           "y": {"field": "v", "type": "quantitative", "scale": {"domain": [-2, 2], "nice": false, "zero": false}, "axis": {"orient": "left", "values": [-2, -1, 0, 1, 2], "title": "Contact Location [mm]", "tickSize": -5, "labelPadding": 14, "titlePadding": 6, "labelExpr": "'' + datum.value"}}}},
        {"data": {"name": "b"}, "mark": {"type": "line", "opacity": 0},
         "encoding": {"x": {"field": "t", "type": "quantitative", "scale": {"domain": [0, 7], "nice": false}, "axis": {"orient": "top", "values": [1, 2, 3, 4, 5, 6], "labels": false, "title": null, "tickSize": -5}}, "y": {"field": "v", "type": "quantitative", "scale": {"domain": [-2, 2], "nice": false, "zero": false}, "axis": {"orient": "right", "values": [-1, 0, 1], "labels": false, "title": null, "tickSize": -5}}}}
      ],
      "resolve": {"axis": {"x": "independent", "y": "independent"}}
    },
    {
      "width": 394, "height": 322,
      "title": "(c) Array Pin Trans.,  3mm Off Center",
      "layer": [
        {"data": {"name": "c_thr"}, "mark": {"type": "line", "color": "black", "strokeWidth": 2, "strokeDash": [2, 7.5], "clip": true},
         "encoding": {
           "x": {"field": "t", "type": "quantitative", "scale": {"domain": [0, 7], "nice": false}, "axis": {"orient": "bottom", "values": [0, 1, 2, 3, 4, 5, 6], "title": "time [sec.]", "tickSize": -5, "labelPadding": 16, "titlePadding": 4, "labelExpr": "'' + datum.value"}},
           "y": {"field": "v", "type": "quantitative", "scale": {"domain": [-5, -1], "nice": false, "zero": false}, "axis": {"orient": "left", "values": [-5, -4, -3, -2, -1], "title": "Contact Location [mm]", "tickSize": -5, "labelPadding": 14, "titlePadding": 6, "labelExpr": "'' + datum.value"}}}},
        {"data": {"name": "c_cent"}, "mark": {"type": "line", "color": "black", "strokeWidth": 2, "strokeDash": [9, 7], "clip": true},
         "encoding": {"x": {"field": "t", "type": "quantitative", "scale": {"domain": [0, 7], "nice": false}, "axis": null}, "y": {"field": "v", "type": "quantitative", "scale": {"domain": [-5, -1], "nice": false, "zero": false}, "axis": null}}},
        {"data": {"name": "c_peak"}, "mark": {"type": "line", "color": "black", "strokeWidth": 4.5, "strokeCap": "round", "strokeJoin": "round", "clip": true},
         "encoding": {"x": {"field": "t", "type": "quantitative", "scale": {"domain": [0, 7], "nice": false}, "axis": null}, "y": {"field": "v", "type": "quantitative", "scale": {"domain": [-5, -1], "nice": false, "zero": false}, "axis": null}}},
        {"data": {"name": "c_lines"}, "mark": {"type": "rule", "color": "black", "strokeWidth": 1.5},
         "encoding": {"x": {"field": "t", "type": "quantitative", "scale": {"domain": [0, 7], "nice": false}, "axis": null}, "y": {"field": "v", "type": "quantitative", "scale": {"domain": [-5, -1], "nice": false, "zero": false}, "axis": null}, "x2": {"field": "t2"}, "y2": {"field": "v2"}}},
        {"data": {"name": "c_ann"}, "mark": {"type": "text", "align": "center", "baseline": "middle", "fontSize": 17.5},
         "encoding": {"x": {"field": "t", "type": "quantitative", "scale": {"domain": [0, 7], "nice": false}, "axis": null}, "y": {"field": "v", "type": "quantitative", "scale": {"domain": [-5, -1], "nice": false, "zero": false}, "axis": null}, "text": {"field": "label"}}},
        {"data": {"name": "c_thr"}, "mark": {"type": "line", "opacity": 0},
         "encoding": {"x": {"field": "t", "type": "quantitative", "scale": {"domain": [0, 7], "nice": false}, "axis": {"orient": "top", "values": [1, 2, 3, 4, 5, 6], "labels": false, "title": null, "tickSize": -5}}, "y": {"field": "v", "type": "quantitative", "scale": {"domain": [-5, -1], "nice": false, "zero": false}, "axis": {"orient": "right", "values": [-4, -3, -2], "labels": false, "title": null, "tickSize": -5}}}}
      ],
      "resolve": {"axis": {"x": "independent", "y": "independent"}}
    },
    {
      "width": 394, "height": 322,
      "title": "(d) ICS Pin Trans.,  3mm Off Center",
      "layer": [
        {"data": {"name": "d"}, "mark": {"type": "line", "color": "black", "strokeWidth": 2.4, "clip": true},
         "encoding": {
           "x": {"field": "t", "type": "quantitative", "scale": {"domain": [0, 7], "nice": false}, "axis": {"orient": "bottom", "values": [0, 1, 2, 3, 4, 5, 6], "title": "time [sec.]", "tickSize": -5, "labelPadding": 16, "titlePadding": 4, "labelExpr": "'' + datum.value"}},
           "y": {"field": "v", "type": "quantitative", "scale": {"domain": [-5, -1], "nice": false, "zero": false}, "axis": {"orient": "left", "values": [-5, -4, -3, -2, -1], "title": "Contact Location [mm]", "tickSize": -5, "labelPadding": 14, "titlePadding": 6, "labelExpr": "'' + datum.value"}}}},
        {"data": {"name": "d"}, "mark": {"type": "line", "opacity": 0},
         "encoding": {"x": {"field": "t", "type": "quantitative", "scale": {"domain": [0, 7], "nice": false}, "axis": {"orient": "top", "values": [1, 2, 3, 4, 5, 6], "labels": false, "title": null, "tickSize": -5}}, "y": {"field": "v", "type": "quantitative", "scale": {"domain": [-5, -1], "nice": false, "zero": false}, "axis": {"orient": "right", "values": [-4, -3, -2], "labels": false, "title": null, "tickSize": -5}}}}
      ],
      "resolve": {"axis": {"x": "independent", "y": "independent"}}
    }
  ]
}
